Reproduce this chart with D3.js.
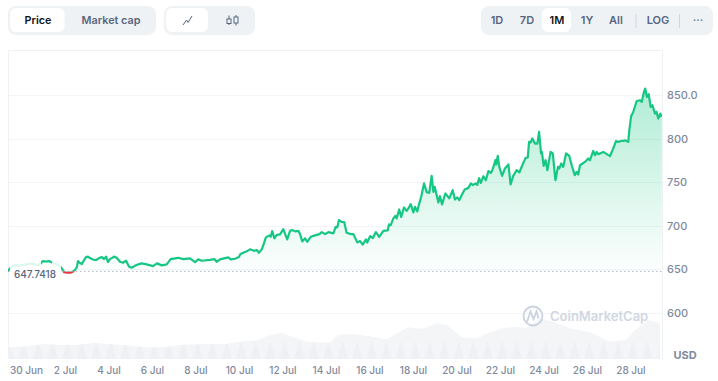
<!DOCTYPE html>
<html>
<head>
<meta charset="utf-8">
<script src="https://cdn.jsdelivr.net/npm/d3@7"></script>
<style>
    html, body { margin: 0; padding: 0; background: #fff; }
    text { font-family: Inter, "Noto Sans", sans-serif; }
</style>
</head>
<body>
<div id="chart"></div>
<script>
// days counted from about 30 Jun 05:00, the spot where the first label sits
const priceDays = [-0.83,-0.64,-0.46,-0.28,-0.05,0.18,0.37,0.55,0.69,0.78,0.92,1.06,1.20,1.33,1.47,1.56,1.66,1.75,1.89,2.07,2.16,2.25,2.34,2.39,2.48,2.57,2.67,2.76,2.85,2.94,3.08,3.22,3.36,3.49,3.59,3.68,3.77,3.86,3.95,4.05,4.18,4.32,4.46,4.60,4.74,4.86,5.06,5.32,5.55,5.84,6.02,6.24,6.47,6.65,7.00,7.23,7.54,7.77,7.92,8.08,8.46,8.66,8.77,8.92,9.30,9.41,9.61,9.79,9.86,10.15,10.30,10.48,10.61,10.71,10.84,10.94,11.03,11.19,11.25,11.32,11.42,11.53,11.68,11.83,11.95,12.01,12.14,12.26,12.37,12.52,12.60,12.70,12.83,12.93,13.09,13.29,13.49,13.60,13.75,13.90,14.13,14.24,14.31,14.39,14.51,14.63,14.74,14.94,15.05,15.23,15.36,15.48,15.63,15.69,15.82,15.94,16.09,16.24,16.43,16.63,16.69,16.77,16.89,16.98,17.04,17.16,17.25,17.38,17.50,17.58,17.69,17.81,17.89,17.99,18.06,18.17,18.30,18.42,18.54,18.65,18.73,18.79,18.96,19.03,19.13,19.28,19.46,19.62,19.72,19.83,19.92,20.03,20.17,20.34,20.45,20.54,20.68,20.75,20.83,20.91,21.03,21.14,21.26,21.37,21.44,21.52,21.58,21.62,21.69,21.76,21.89,22.02,22.18,22.28,22.40,22.56,22.68,22.82,22.97,23.07,23.13,23.20,23.28,23.40,23.51,23.59,23.68,23.72,23.80,23.89,23.97,24.12,24.22,24.34,24.46,24.52,24.61,24.70,24.83,24.98,25.09,25.23,25.32,25.39,25.47,25.70,25.85,25.93,26.08,26.16,26.24,26.31,26.54,26.85,27.00,27.13,27.23,27.36,27.46,27.54,27.63,27.69,27.74,27.82,27.92,28.08,28.23,28.31,28.41,28.47,28.55,28.63,28.72,28.80,28.92,28.99,29.07,29.16,29.23];
const priceValues = [648.2,653.9,655.0,654.5,655.6,656.8,656.2,655.0,657.3,659.6,659.1,659.6,657.9,656.8,655.0,653.9,650.5,647.0,646.4,646.4,647.6,649.3,652.8,659.6,657.3,656.2,660.8,664.2,664.8,663.1,661.4,660.8,663.1,664.2,661.9,664.8,658.5,661.9,663.1,664.8,663.1,658.8,657.7,660.0,653.1,652.0,655.0,657.0,655.8,653.9,657.0,654.7,655.8,661.9,663.4,661.9,662.7,658.5,661.6,660.0,661.1,661.9,658.8,661.6,663.9,661.6,662.3,664.2,667.7,670.8,673.1,671.4,672.3,669.2,673.1,679.9,686.8,689.1,687.5,694.0,685.7,689.8,690.3,696.3,688.3,684.5,694.4,695.2,693.7,694.4,690.6,682.2,685.7,681.8,687.5,689.1,690.6,692.9,690.6,692.9,691.4,699.0,698.3,706.7,704.7,704.4,692.1,690.6,690.6,681.1,682.6,678.6,684.5,680.9,688.3,686.0,692.9,687.5,694.4,694.8,701.7,700.9,708.6,711.6,708.6,718.9,710.4,721.2,717.3,720.1,725.0,715.5,721.9,716.6,723.9,733.4,748.8,738.8,738.0,757.5,739.1,744.9,727.0,734.2,724.7,737.3,731.6,741.1,730.4,732.7,729.6,735.3,741.9,743.7,748.8,747.1,748.8,747.1,754.8,749.4,757.1,752.5,762.9,760.9,764.0,769.7,775.5,770.5,780.4,767.8,757.5,766.0,770.5,747.6,757.5,764.0,761.4,769.7,778.1,778.6,796.5,795.8,800.4,794.6,794.6,807.9,783.2,785.0,768.9,775.5,764.0,785.0,783.2,752.5,767.8,766.0,771.7,767.8,783.2,780.4,769.7,758.3,762.1,759.1,769.7,773.5,777.4,775.5,786.1,781.2,785.0,782.4,785.0,780.1,788.9,797.6,796.5,797.6,797.6,798.4,797.3,796.5,809.9,825.9,830.9,843.5,844.3,842.4,853.8,857.7,848.1,851.2,836.6,838.6,829.0,831.1,823.3,829.0,825.1];

const volumeDays = [-0.83,0.05,0.87,1.56,2.25,3.17,3.86,4.78,5.70,6.39,7.31,8.23,9.15,9.84,10.67,11.22,11.77,12.28,12.92,13.98,14.34,15.03,15.95,16.60,17.06,17.56,18.25,18.90,19.36,19.82,20.09,20.74,21.20,21.93,22.48,23.03,23.63,24.23,25.01,25.93,26.85,27.63,27.91,28.60,29.15];
const volumeValues = [23.4,25.4,30,28,28,32,30,26.6,23,24,29,30,30,34.6,38,48,52.6,43.4,34.6,32.6,48,50,44.6,39.4,51.4,63.4,60.6,71.4,68,51.4,42.6,41.4,51.4,61.4,64.6,62.6,81.4,74.6,61.4,53.4,34.6,39.4,54.6,78,71.4];

const baseValue = 647.7418;
const priceTicks = [850, 800, 750, 700, 650, 600];
const priceTickLabels = ["850.0", "800", "750", "700", "650", "600"];
const dateTicks = [0, 1.79, 3.79, 5.79, 7.79, 9.79, 11.79, 13.79, 15.79, 17.79, 19.79, 21.79, 23.79, 25.79, 27.79];
const dateLabels = ["30 Jun", "2 Jul", "4 Jul", "6 Jul", "8 Jul", "10 Jul", "12 Jul", "14 Jul", "16 Jul", "18 Jul", "20 Jul", "22 Jul", "24 Jul", "26 Jul", "28 Jul"];

const leftTabs = ["Price", "Market cap"];
const rangeTabs = ["1D", "7D", "1M", "1Y", "All", "LOG", "···"];

const green = "#16c784", red = "#ea3943", axisGrey = "#808a9d", pill = "#eff2f5";
const width = 718, height = 381;
const plot = {left: 8, right: 662, top: 50, bottom: 359};

const price = priceDays.map((d, i) => ({d: d, v: priceValues[i]}));
const volume = volumeDays.map((d, i) => ({d: d, v: volumeValues[i]}));

const x = d3.scaleLinear().domain([0, 28]).range([26, 635]);
const y = d3.scaleLinear().domain([600, 850]).range([313, 95.3]);
const yVol = d3.scaleLinear().domain([0, 100]).range([plot.bottom, plot.bottom - 50]);

const svg = d3.select("#chart").append("svg")
    .attr("width", width)
    .attr("height", height)
    .style("display", "block");

const defs = svg.append("defs");

const grad = defs.append("linearGradient")
    .attr("id", "areaFill")
    .attr("gradientUnits", "userSpaceOnUse")
    .attr("x1", 0).attr("x2", 0)
    .attr("y1", y(860)).attr("y2", y(baseValue));
grad.append("stop").attr("offset", "0%").attr("stop-color", green).attr("stop-opacity", 0.34);
grad.append("stop").attr("offset", "100%").attr("stop-color", green).attr("stop-opacity", 0.01);

defs.append("clipPath").attr("id", "aboveBase").append("rect")
    .attr("x", plot.left).attr("width", plot.right - plot.left)
    .attr("y", plot.top).attr("height", y(baseValue) - plot.top);
defs.append("clipPath").attr("id", "belowBase").append("rect")
    .attr("x", plot.left).attr("width", plot.right - plot.left)
    .attr("y", y(baseValue)).attr("height", plot.bottom - y(baseValue));

// the little teeth at the foot of the volume area
const teeth = defs.append("pattern")
    .attr("id", "volTeeth")
    .attr("patternUnits", "userSpaceOnUse")
    .attr("width", 14.5).attr("height", 60)
    .attr("x", 2).attr("y", plot.bottom - 60);
teeth.append("rect").attr("width", 14.5).attr("height", 60).attr("fill", "#f3f5f7");
teeth.append("path").attr("d", "M2,60L7.25,42L12.5,60Z").attr("fill", "#eef0f4");

// top controls
function group(gx, gw) {
    svg.append("rect")
        .attr("x", gx).attr("y", 6).attr("width", gw).attr("height", 29)
        .attr("rx", 8).attr("fill", pill);
}
function whiteTab(tx, tw) {
    svg.append("rect")
        .attr("x", tx).attr("y", 8).attr("width", tw).attr("height", 24)
        .attr("rx", 6).attr("fill", "#fff");
}
group(8, 148);
whiteTab(10, 54.5);
group(164, 91);
whiteTab(166, 42);
group(481, 232);
whiteTab(542, 29);

svg.selectAll(".leftTab")
    .data(leftTabs)
    .join("text")
    .attr("class", "leftTab")
    .attr("x", (d, i) => [38, 111][i])
    .attr("y", 20.5)
    .attr("dy", "0.35em")
    .attr("text-anchor", "middle")
    .attr("font-size", 10.8)
    .attr("font-weight", 600)
    .attr("fill", (d, i) => i === 0 ? "#0d1421" : "#58667e")
    .text(d => d);

svg.selectAll(".rangeTab")
    .data(rangeTabs)
    .join("text")
    .attr("class", "rangeTab")
    .attr("x", (d, i) => [497, 527, 557, 587, 616, 658, 698][i])
    .attr("y", 20.5)
    .attr("dy", "0.35em")
    .attr("text-anchor", "middle")
    .attr("font-size", 11)
    .attr("font-weight", 600)
    .attr("fill", d => d === "1M" ? "#0d1421" : d === "···" ? axisGrey : "#58667e")
    .text(d => d);

svg.selectAll(".tabSep")
    .data([636, 679.5])
    .join("line")
    .attr("class", "tabSep")
    .attr("x1", d => d).attr("x2", d => d)
    .attr("y1", 14).attr("y2", 28)
    .attr("stroke", "#cfd6e4");

// line and candle icons
svg.append("path")
    .attr("d", "M183,25L186.5,20L188,22.5L192,16")
    .attr("fill", "none").attr("stroke", "#58667e").attr("stroke-width", 1);
const candle = svg.append("g")
    .attr("fill", "none").attr("stroke", "#58667e").attr("stroke-width", 1);
candle.append("path").attr("d", "M229,15.5V25M236,15V25.5");
candle.append("rect").attr("x", 227).attr("y", 19).attr("width", 4).attr("height", 4.5).attr("fill", pill);
candle.append("rect").attr("x", 234).attr("y", 17).attr("width", 4).attr("height", 6).attr("fill", pill);

// frame
svg.append("path")
    .attr("d", `M${plot.left + .5},${plot.bottom}V${plot.top + .5}H${plot.right + .5}V${plot.bottom}`)
    .attr("fill", "none")
    .attr("stroke", "#eff2f5");

// y axis, no domain line and gridlines drawn as the ticks
const yAxis = svg.append("g")
    .attr("transform", `translate(${plot.right},0)`)
    .call(d3.axisRight(y)
        .tickValues(priceTicks)
        .tickSize(0)
        .tickPadding(5)
        .tickFormat((d, i) => priceTickLabels[i]));
yAxis.select(".domain").remove();
yAxis.selectAll("text")
    .attr("font-family", null)
    .attr("font-size", 11)
    .attr("font-weight", 500)
    .attr("fill", axisGrey);

svg.selectAll(".grid")
    .data(priceTicks)
    .join("line")
    .attr("class", "grid")
    .attr("x1", plot.left + 1).attr("x2", plot.right)
    .attr("y1", d => Math.round(y(d)) + .5)
    .attr("y2", d => Math.round(y(d)) + .5)
    .attr("stroke", "#f3f4f6");

const xAxis = svg.append("g")
    .attr("transform", `translate(0,${plot.bottom})`)
    .call(d3.axisBottom(x)
        .tickValues(dateTicks)
        .tickSize(0)
        .tickPadding(8)
        .tickFormat((d, i) => dateLabels[i]));
xAxis.select(".domain").remove();
xAxis.selectAll("text")
    .attr("font-family", null)
    .attr("font-size", 10)
    .attr("font-weight", 500)
    .attr("fill", axisGrey);

svg.append("text")
    .attr("x", 685).attr("y", 355)
    .attr("dy", "0.35em")
    .attr("text-anchor", "middle")
    .attr("font-size", 11)
    .attr("font-weight", 700)
    .attr("fill", axisGrey)
    .text("USD");

// volume
svg.append("path")
    .datum(volume)
    .attr("d", d3.area().x(d => x(d.d)).y0(plot.bottom).y1(d => yVol(d.v)))
    .attr("fill", "url(#volTeeth)");

// watermark
const mark = svg.append("g").attr("opacity", 0.9);
mark.append("circle")
    .attr("cx", 533).attr("cy", 316).attr("r", 9.5)
    .attr("fill", "none").attr("stroke", "#c6cedd").attr("stroke-width", 1.8);
mark.append("path")
    .attr("d", "M527,322L530.5,311.5L533.5,319L536.5,311.5L538.5,318.5")
    .attr("fill", "none").attr("stroke", "#c6cedd").attr("stroke-width", 1.8);
mark.append("text")
    .attr("x", 550).attr("y", 316.5)
    .attr("dy", "0.35em")
    .attr("font-size", 13)
    .attr("font-weight", 600)
    .attr("fill", "#cdd4e0")
    .text("CoinMarketCap");

// price area above the base value
const lineGen = d3.line().x(d => x(d.d)).y(d => y(d.v));
const areaGen = d3.area().x(d => x(d.d)).y0(y(baseValue)).y1(d => y(d.v));

svg.append("path")
    .datum(price)
    .attr("d", areaGen)
    .attr("clip-path", "url(#aboveBase)")
    .attr("fill", "url(#areaFill)");

// dotted base line
svg.append("line")
    .attr("x1", plot.left).attr("x2", plot.right)
    .attr("y1", y(baseValue)).attr("y2", y(baseValue))
    .attr("stroke", "#b5bac4")
    .attr("stroke-width", 1)
    .attr("stroke-dasharray", "1.5 2.5");

svg.append("path")
    .datum(price)
    .attr("d", lineGen)
    .attr("clip-path", "url(#aboveBase)")
    .attr("fill", "none")
    .attr("stroke", green)
    .attr("stroke-width", 2.2)
    .attr("stroke-linejoin", "round");

svg.append("path")
    .datum(price)
    .attr("d", lineGen)
    .attr("clip-path", "url(#belowBase)")
    .attr("fill", "none")
    .attr("stroke", red)
    .attr("stroke-width", 2.2)
    .attr("stroke-linejoin", "round");

// base value tag washes out the line behind it
svg.selectAll(".tagWash")
    .data([[10, 31, 256], [52, 9, 256], [41, 11, 265]])
    .join("rect")
    .attr("class", "tagWash")
    .attr("x", d => d[0]).attr("width", d => d[1])
    .attr("y", d => d[2]).attr("height", d => 282 - d[2])
    .attr("fill", "#fff")
    .attr("opacity", 0.85);

svg.append("text")
    .attr("x", 14).attr("y", 274.5)
    .attr("dy", "0.35em")
    .attr("font-size", 10)
    .attr("font-weight", 500)
    .attr("fill", "#58667e")
    .text(baseValue.toFixed(4));
</script>
</body>
</html>
